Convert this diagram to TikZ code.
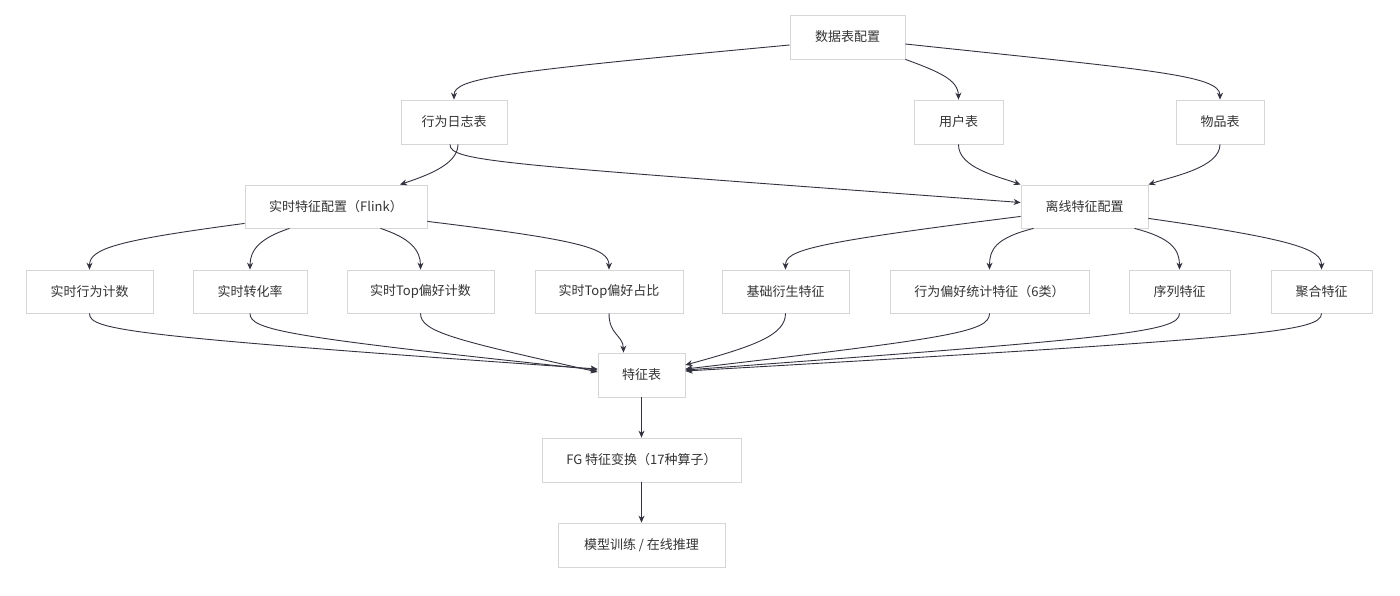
\documentclass[tikz,border=0pt]{standalone}
\usepackage{fontspec}
\setmainfont{Noto Sans CJK SC}
\usetikzlibrary{arrows.meta}
\definecolor{txt}{HTML}{333333}
\definecolor{bd}{HTML}{D6D6D6}
\definecolor{ln}{HTML}{333340}
\begin{document}
\begin{tikzpicture}[x=1pt,y=-1pt,
  box/.style={draw=bd,line width=0.8pt,fill=white,text=txt,minimum height=44pt,inner sep=0pt,font=\fontsize{13}{15}\selectfont},
  edge/.style={draw=ln,line width=0.9pt,-{Stealth[length=7pt,width=6pt]}}]
\useasboundingbox[fill=white] (0,0) rectangle (1400,595);

\node[box,minimum width=115pt] (top) at (847.5,37) {数据表配置};
\node[box,minimum width=106pt] (log) at (454,122) {行为日志表};
\node[box,minimum width=89pt] (user) at (958.5,122) {用户表};
\node[box,minimum width=88pt] (item) at (1220,122) {物品表};
\node[box,minimum width=182pt,minimum height=43pt] (rt) at (336,206.5) {实时特征配置（Flink）};
\node[box,minimum width=127pt,minimum height=43pt] (off) at (1084.5,206.5) {离线特征配置};

\node[box,minimum width=127pt,minimum height=43pt] (r1) at (89.5,291.5) {实时行为计数};
\node[box,minimum width=114pt,minimum height=43pt] (r2) at (250,291.5) {实时转化率};
\node[box,minimum width=147pt,minimum height=43pt] (r3) at (420.5,291.5) {实时Top偏好计数};
\node[box,minimum width=148pt,minimum height=43pt] (r4) at (609,291.5) {实时Top偏好占比};
\node[box,minimum width=127pt,minimum height=43pt] (o1) at (785.5,291.5) {基础衍生特征};
\node[box,minimum width=199pt,minimum height=43pt] (o2) at (989.5,291.5) {行为偏好统计特征（6类）};
\node[box,minimum width=101pt,minimum height=43pt] (o3) at (1179.5,291.5) {序列特征};
\node[box,minimum width=101pt,minimum height=43pt] (o4) at (1321.5,291.5) {聚合特征};

\node[box,minimum width=87pt] (fe) at (641.5,375) {特征表};
\node[box,minimum width=199pt] (fg) at (641.5,460) {FG 特征变换（17种算子）};
\node[box,minimum width=167pt] (md) at (641.5,545) {模型训练 / 在线推理};

% top level
\draw[edge] ([yshift=-8pt]top.west) .. controls (500,72) and (454,78) .. (log.north);
\draw[edge] (top.south east) .. controls (940,72) and (958,80) .. (user.north);
\draw[edge] ([yshift=-7pt]top.east) .. controls (1150,70) and (1220,75) .. (item.north);

% second level
\draw[edge] ([xshift=4pt]log.south) .. controls (458,165) and (425,176) .. ([xshift=64pt]rt.north);
\draw[edge] ([xshift=-4pt]log.south) .. controls (450,162) and (500,164) .. ([yshift=4pt]off.west);
\draw[edge] (user.south) .. controls (958,168) and (1000,177) .. (off.north west);
\draw[edge] (item.south) .. controls (1220,168) and (1170,177) .. (off.north east);

% realtime children
\draw[edge] ([yshift=5pt]rt.south west) .. controls (120,240) and (89.5,248) .. (r1.north);
\draw[edge] ([xshift=45pt]rt.south west) .. controls (260,238) and (250,250) .. (r2.north);
\draw[edge] ([xshift=-47pt]rt.south east) .. controls (410,238) and (420.5,250) .. (r3.north);
\draw[edge] ([yshift=7pt]rt.south east) .. controls (580,240) and (609,248) .. (r4.north);

% offline children
\draw[edge] ([yshift=12pt]off.south west) .. controls (810,243) and (785.5,250) .. (o1.north);
\draw[edge] ([xshift=13pt]off.south west) .. controls (995,238) and (989.5,250) .. (o2.north);
\draw[edge] ([xshift=-14pt]off.south east) .. controls (1172,238) and (1179.5,250) .. (o3.north);
\draw[edge] ([yshift=10pt]off.south east) .. controls (1300,240) and (1321.5,250) .. (o4.north);

% into feature table
\draw[edge] (r1.south) .. controls (89.5,330) and (125,336) .. ([yshift=6pt]fe.west);
\draw[edge] (r2.south) .. controls (250,330) and (285,337) .. ([yshift=5pt]fe.west);
\draw[edge] (r3.south) .. controls (420.5,332) and (455,340) .. ([yshift=3pt]fe.west);
\draw[edge] (r4.south) .. controls (609,335) and (623,335) .. ([xshift=-18pt]fe.north);
\draw[edge] (o1.south) .. controls (785.5,335) and (755,346) .. ([yshift=10pt]fe.east);
\draw[edge] (o2.south) .. controls (989.5,332) and (950,338) .. ([yshift=6pt]fe.east);
\draw[edge] (o3.south) .. controls (1179.5,332) and (1120,338) .. ([yshift=5pt]fe.east);
\draw[edge] (o4.south) .. controls (1321.5,332) and (1260,338) .. ([yshift=4pt]fe.east);

\draw[edge] (fe.south) -- (fg.north);
\draw[edge] (fg.south) -- (md.north);
\end{tikzpicture}
\end{document}
